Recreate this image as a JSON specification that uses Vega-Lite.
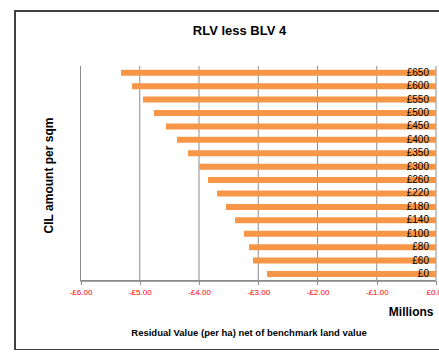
{
  "$schema": "https://vega.github.io/schema/vega-lite/v6.json",
  "autosize": {"type": "none"},
  "width": 431,
  "height": 339,
  "padding": {"left": 15, "top": 11, "right": 0, "bottom": 0},
  "background": "white",
  "view": {"stroke": "#404040", "strokeWidth": 2},
  "config": {"font": "Liberation Sans"},
  "title": {
    "text": "RLV less BLV 4",
    "frame": "group",
    "anchor": "middle",
    "fontSize": 13,
    "fontWeight": "bold",
    "color": "#000000",
    "baseline": "alphabetic",
    "offset": 0,
    "dx": 9,
    "dy": 37
  },
  "datasets": {
    "rlv": [
      {"cil": "£650", "value": -5.316},
      {"cil": "£600", "value": -5.13},
      {"cil": "£550", "value": -4.945},
      {"cil": "£500", "value": -4.76},
      {"cil": "£450", "value": -4.557},
      {"cil": "£400", "value": -4.371},
      {"cil": "£350", "value": -4.186},
      {"cil": "£300", "value": -3.995},
      {"cil": "£260", "value": -3.848},
      {"cil": "£220", "value": -3.696},
      {"cil": "£180", "value": -3.544},
      {"cil": "£140", "value": -3.392},
      {"cil": "£100", "value": -3.241},
      {"cil": "£80", "value": -3.156},
      {"cil": "£60", "value": -3.089},
      {"cil": "£0", "value": -2.852}
    ],
    "grid": [
      {"v": -6}, {"v": -5}, {"v": -4}, {"v": -3}, {"v": -2}, {"v": -1}, {"v": 0}
    ]
  },
  "resolve": {"axis": {"x": "independent", "y": "independent"}},
  "layer": [
    {
      "data": {"name": "grid"},
      "mark": {"type": "rule", "color": "#8c8c8c", "strokeWidth": 1, "yOffset": -6.71, "y2Offset": 6.71},
      "encoding": {
        "x": {"field": "v", "type": "quantitative", "axis": null,
              "scale": {"domain": [-7.1055, 0.1688], "nice": false, "zero": false}},
        "y": {"datum": "£650", "type": "nominal", "axis": null,
              "scale": {"type": "band", "domain": ["£650","£600","£550","£500","£450","£400","£350","£300","£260","£220","£180","£140","£100","£80","£60","£0"], "range": [55, 269.7], "paddingInner": 0, "paddingOuter": 0}},
        "y2": {"datum": "£0"}
      }
    },
    {
      "data": {"name": "rlv"},
      "mark": {"type": "bar", "color": "#F79646", "height": {"band": 0.447}},
      "encoding": {
        "x": {"field": "value", "type": "quantitative",
              "scale": {"domain": [-7.1055, 0.1688], "nice": false, "zero": false},
              "axis": {
                "orient": "bottom",
                "offset": -69.5,
                "values": [-6, -5, -4, -3, -2, -1, 0],
                "grid": false,
                "domain": false,
                "ticks": true,
                "tickSize": 4,
                "tickColor": "#8c8c8c",
                "labelColor": "#FF0000",
                "labelFontSize": 8,
                "labelPadding": 4,
                "labelFlush": false,
                "labelOverlap": false,
                "labelExpr": "datum.value < 0 ? '-£' + format(-datum.value, '.2f') : '£' + format(datum.value, '.2f')",
                "title": "Millions",
                "titleFontSize": 12,
                "titleFontWeight": "bold",
                "titleColor": "#000000",
                "titleX": 418,
                "titleY": 35,
                "titleAlign": "right",
                "titleBaseline": "alphabetic"
              }},
        "x2": {"datum": 0},
        "y": {"field": "cil", "type": "nominal",
              "scale": {"type": "band", "domain": ["£650","£600","£550","£500","£450","£400","£350","£300","£260","£220","£180","£140","£100","£80","£60","£0"], "range": [55, 269.7], "paddingInner": 0, "paddingOuter": 0},
              "axis": {
                "orient": "left",
                "labels": false,
                "ticks": false,
                "domain": false,
                "grid": false,
                "title": "CIL amount per sqm",
                "titleFontSize": 12,
                "titleFontWeight": "bold",
                "titleColor": "#000000",
                "titleAngle": -90,
                "titleX": 33.3,
                "titleY": 164,
                "titleAlign": "center",
                "titleBaseline": "middle"
              }}
      }
    },
    {
      "data": {"name": "grid"},
      "mark": {"type": "rule", "color": "#8c8c8c", "strokeWidth": 1, "yOffset": 6.71},
      "encoding": {
        "x": {"datum": -6, "axis": null,
              "scale": {"domain": [-7.1055, 0.1688], "nice": false, "zero": false}},
        "x2": {"datum": 0},
        "y": {"datum": "£0", "type": "nominal", "axis": null}
      }
    },
    {
      "data": {"name": "rlv"},
      "mark": {"type": "text", "align": "right", "baseline": "middle", "dx": -7, "fontSize": 10, "color": "#000000"},
      "encoding": {
        "x": {"datum": 0, "type": "quantitative",
              "scale": {"domain": [-7.1055, 0.1688], "nice": false, "zero": false},
              "axis": {
                "orient": "bottom",
                "labels": false,
                "ticks": false,
                "domain": false,
                "grid": false,
                "title": "Residual Value (per ha) net of benchmark land value",
                "titleFontSize": 9.5,
                "titleFontWeight": "bold",
                "titleColor": "#000000",
                "titleX": 233.5,
                "titleY": -15,
                "titleAlign": "center",
                "titleBaseline": "alphabetic"
              }},
        "y": {"field": "cil", "type": "nominal", "axis": null},
        "text": {"field": "cil"}
      }
    }
  ]
}
